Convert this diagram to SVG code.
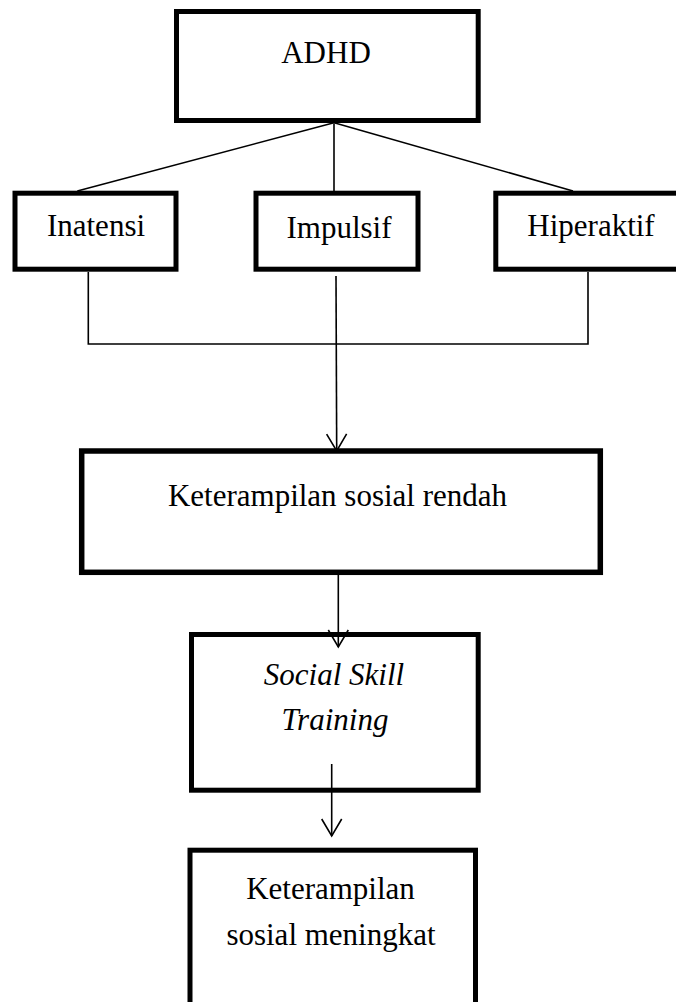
<svg xmlns="http://www.w3.org/2000/svg" width="676" height="1002" viewBox="0 0 676 1002">
<style>
.box{fill:#fff;stroke:#000;stroke-width:5}
.lbl{font-family:"Liberation Serif","Times New Roman",serif;font-size:31px;fill:#000;text-anchor:middle}
.it{font-style:italic}
.con{fill:none;stroke:#000;stroke-width:1.6}
</style>
<defs>
<marker id="arr" markerUnits="userSpaceOnUse" viewBox="-20 -12 22 24" refX="0" refY="0" markerWidth="22" markerHeight="24" orient="auto" overflow="visible">
<path d="M-17,-10 L0,0 L-17,10" fill="none" stroke="#000" stroke-width="1.6"/>
</marker>
</defs>
<rect width="676" height="1002" fill="#fff"/>
<g id="adhd">
<rect class="box" x="176.5" y="11.5" width="301.7" height="109"/>
<text class="lbl" x="326" y="63">ADHD</text>
</g>
<g id="inatensi">
<rect class="box" x="15" y="193.2" width="161" height="76"/>
<text class="lbl" x="96" y="236">Inatensi</text>
</g>
<g id="impulsif">
<rect class="box" x="256" y="193.2" width="162" height="76"/>
<text class="lbl" x="339" y="237.5">Impulsif</text>
</g>
<g id="hiperaktif">
<rect class="box" x="495.8" y="193.2" width="200" height="76"/>
<text class="lbl" x="591" y="236">Hiperaktif</text>
</g>
<g id="keterampilan-rendah">
<rect class="box" x="81.7" y="451" width="518.6" height="121.3" style="stroke-width:5.5"/>
<text class="lbl" x="337.5" y="506">Keterampilan sosial rendah</text>
</g>
<g id="social-skill-training">
<rect class="box" x="191.5" y="634.5" width="286.7" height="155.7"/>
<text class="lbl it" x="334" y="685">Social Skill</text>
<text class="lbl it" x="335" y="730">Training</text>
</g>
<g id="keterampilan-meningkat">
<rect class="box" x="190" y="850.2" width="285.5" height="200"/>
<text class="lbl" x="330.5" y="899">Keterampilan</text>
<text class="lbl" x="331" y="945">sosial meningkat</text>
</g>
<g id="connectors">
<line class="con" x1="333" y1="123" x2="77.3" y2="191"/>
<line class="con" x1="334" y1="123" x2="334" y2="191"/>
<line class="con" x1="335" y1="123" x2="573" y2="191"/>
<polyline class="con" points="88.3,272 88.3,344 588,344 588,272"/>
<line class="con" x1="336" y1="276" x2="336.7" y2="451" marker-end="url(#arr)"/>
<line class="con" x1="338.3" y1="575" x2="338.3" y2="647" marker-end="url(#arr)"/>
<line class="con" x1="331.7" y1="764" x2="331.7" y2="836" marker-end="url(#arr)"/>
</g>
</svg>
